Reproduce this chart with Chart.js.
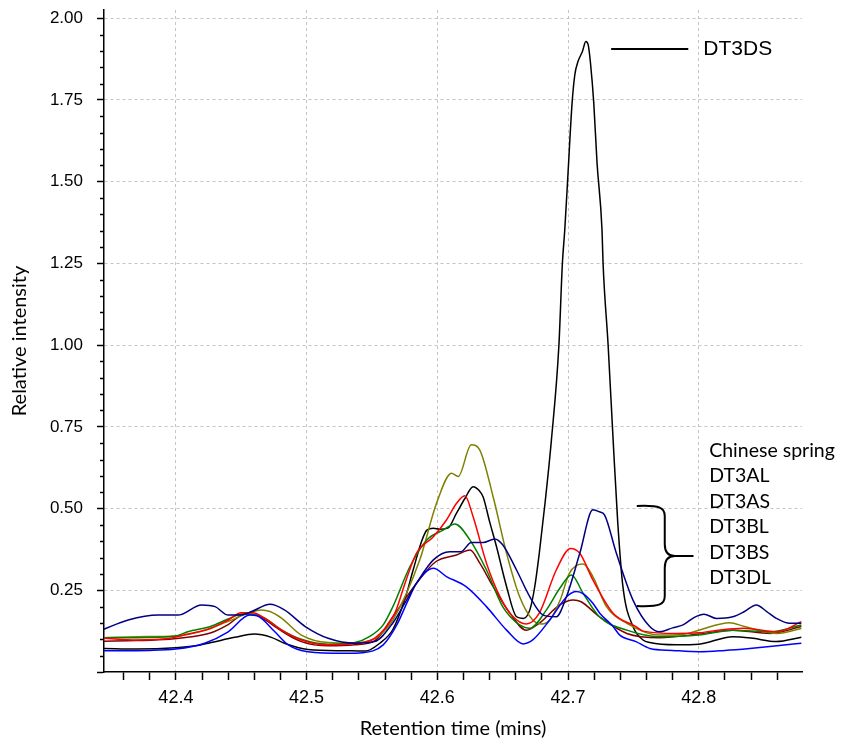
<!DOCTYPE html>
<html>
<head>
<meta charset="utf-8">
<script src="https://cdn.jsdelivr.net/npm/chart.js@4/dist/chart.umd.min.js"></script>
<style>
  html, body { margin: 0; padding: 0; background: #fff; }
  #wrap { width: 847px; height: 739px; position: relative; }
</style>
</head>
<body>
<div id="wrap"><canvas id="c" width="847" height="739"></canvas></div>
<script>
// ---------- DATA ----------
const xTitle = 'Retention time (mins)';
const yTitle = 'Relative intensity';
const legendNames = ['Chinese spring', 'DT3AL', 'DT3AS', 'DT3BL', 'DT3BS', 'DT3DL'];
const peakLabel = 'DT3DS';

// Chinese spring (navy)
const csTime = [42.345,42.3635,42.3865,42.4015,42.4197,42.430,42.440,42.450,42.458,42.472,42.483,42.499,42.5165,42.537,42.552,42.566,42.575,42.584,42.597,42.6096,42.618,42.626,42.635,42.644,42.650,42.6606,42.6708,42.681,42.691,42.6988,42.709,42.719,42.724,42.728,42.737,42.7497,42.7625,42.770,42.780,42.788,42.797,42.804,42.8135,42.826,42.835,42.844,42.852,42.8594,42.8696,42.8785];
const csInt  = [0.131,0.159,0.174,0.174,0.205,0.200,0.174,0.174,0.185,0.207,0.190,0.139,0.103,0.088,0.093,0.150,0.210,0.271,0.343,0.368,0.368,0.396,0.396,0.407,0.389,0.312,0.230,0.174,0.169,0.230,0.363,0.496,0.490,0.480,0.363,0.220,0.139,0.123,0.135,0.144,0.168,0.177,0.164,0.169,0.185,0.205,0.185,0.164,0.149,0.149];

// DT3AL (blue)
const alTime = [42.345,42.380,42.400,42.422,42.440,42.4566,42.462,42.4757,42.486,42.501,42.529,42.543,42.5586,42.569,42.5777,42.584,42.597,42.607,42.622,42.6376,42.653,42.6657,42.673,42.686,42.699,42.7065,42.712,42.719,42.7243,42.7345,42.7396,42.752,42.7626,42.780,42.8008,42.820,42.839,42.860,42.8785];
const alInt  = [0.065,0.066,0.070,0.088,0.123,0.174,0.172,0.123,0.083,0.062,0.057,0.059,0.083,0.144,0.220,0.271,0.317,0.292,0.261,0.200,0.128,0.086,0.098,0.159,0.230,0.246,0.238,0.210,0.180,0.139,0.113,0.093,0.072,0.066,0.062,0.066,0.072,0.080,0.088];

// DT3AS (red)
const asTime = [42.345,42.370,42.395,42.409,42.427,42.440,42.450,42.459,42.468,42.481,42.496,42.5165,42.537,42.552,42.5675,42.576,42.584,42.597,42.607,42.6147,42.621,42.6274,42.6376,42.648,42.658,42.668,42.678,42.691,42.702,42.709,42.719,42.7345,42.752,42.7574,42.783,42.800,42.815,42.834,42.860,42.8785];
const asInt  = [0.103,0.098,0.103,0.116,0.134,0.159,0.181,0.181,0.164,0.128,0.098,0.083,0.088,0.103,0.180,0.280,0.363,0.414,0.465,0.516,0.539,0.475,0.333,0.230,0.169,0.147,0.180,0.312,0.378,0.363,0.282,0.180,0.139,0.125,0.118,0.120,0.128,0.134,0.123,0.154];

// DT3BL (green)
const blTime = [42.345,42.370,42.400,42.409,42.427,42.440,42.452,42.460,42.468,42.481,42.496,42.5165,42.537,42.548,42.5586,42.566,42.579,42.592,42.6045,42.6134,42.6249,42.6376,42.650,42.663,42.6708,42.6835,42.6937,42.7026,42.7115,42.724,42.745,42.770,42.800,42.826,42.855,42.8785];
const blInt  = [0.105,0.105,0.110,0.123,0.140,0.162,0.178,0.176,0.165,0.128,0.100,0.085,0.090,0.108,0.144,0.200,0.322,0.404,0.434,0.453,0.404,0.312,0.200,0.144,0.134,0.190,0.256,0.297,0.241,0.169,0.128,0.108,0.113,0.128,0.123,0.144];

// DT3BS (olive)
const bsTime = [42.345,42.370,42.400,42.420,42.440,42.4655,42.472,42.481,42.496,42.5165,42.537,42.545,42.555,42.566,42.5866,42.5994,42.6109,42.616,42.626,42.6325,42.6427,42.653,42.663,42.673,42.680,42.686,42.694,42.701,42.7115,42.719,42.7294,42.745,42.770,42.788,42.800,42.8237,42.835,42.860,42.8785];
const bsInt  = [0.105,0.108,0.110,0.125,0.155,0.190,0.185,0.164,0.113,0.090,0.088,0.093,0.110,0.159,0.343,0.516,0.608,0.598,0.695,0.679,0.536,0.363,0.230,0.159,0.147,0.159,0.220,0.302,0.330,0.292,0.200,0.149,0.113,0.115,0.128,0.151,0.139,0.118,0.133];

// DT3DL (maroon)
const dlTime = [42.345,42.370,42.395,42.409,42.427,42.440,42.4525,42.460,42.468,42.481,42.496,42.5165,42.537,42.552,42.566,42.584,42.599,42.6147,42.625,42.6325,42.6427,42.6555,42.668,42.678,42.6937,42.704,42.710,42.724,42.745,42.770,42.800,42.826,42.855,42.8785];
const dlInt  = [0.094,0.096,0.100,0.106,0.120,0.145,0.177,0.176,0.160,0.125,0.093,0.080,0.083,0.095,0.169,0.271,0.338,0.358,0.373,0.333,0.261,0.180,0.128,0.149,0.205,0.220,0.215,0.169,0.118,0.105,0.116,0.128,0.118,0.139];

// DT3DS (black)
const dsTime = [42.345,42.370,42.400,42.415,42.427,42.445,42.460,42.473,42.483,42.501,42.529,42.545,42.556,42.566,42.575,42.5815,42.588,42.592,42.597,42.602,42.608,42.6147,42.621,42.6274,42.632,42.635,42.640,42.6453,42.653,42.6606,42.6657,42.6708,42.6745,42.678,42.6825,42.6873,42.693,42.6957,42.6975,42.700,42.7031,42.7052,42.7077,42.711,42.7136,42.7154,42.7172,42.7197,42.7222,42.726,42.7268,42.7307,42.7345,42.738,42.742,42.7497,42.7574,42.7626,42.783,42.800,42.826,42.840,42.8594,42.8785];
const dsInt  = [0.072,0.070,0.074,0.080,0.090,0.106,0.116,0.106,0.088,0.069,0.065,0.064,0.088,0.130,0.220,0.312,0.400,0.434,0.440,0.437,0.440,0.486,0.530,0.567,0.555,0.536,0.460,0.383,0.261,0.169,0.164,0.190,0.260,0.363,0.520,0.710,0.998,1.251,1.352,1.526,1.740,1.827,1.868,1.898,1.929,1.919,1.862,1.740,1.557,1.352,1.251,0.998,0.710,0.460,0.261,0.139,0.098,0.090,0.083,0.085,0.108,0.104,0.093,0.106];

// axis ranges / ticks
const xMin = 42.345, xMax = 42.879, xStep = 0.02, xMajor = 0.1;
const yMin = 0, yMax = 2.025, yStep = 0.05, yMajor = 0.25;

// annotation anchors in data units
const peakLine = { x1: 42.733, x2: 42.792, y: 1.906, textX: 42.8035 };
const legendAnchor = { x: 42.808, y: 0.677 };
const brace = { xEnd: 42.7526, xMid: 42.774, xTip: 42.796, yTop: 0.508, yTip: 0.355, yBot: 0.202 };

// ---------- CHART ----------
function pts(t, v) { return t.map((x, i) => ({ x: x, y: v[i] })); }
const series = [
  { label: 'Chinese spring', data: pts(csTime, csInt), color: '#000080' },
  { label: 'DT3AL', data: pts(alTime, alInt), color: '#0000FF' },
  { label: 'DT3AS', data: pts(asTime, asInt), color: '#FF0000' },
  { label: 'DT3BL', data: pts(blTime, blInt), color: '#008000' },
  { label: 'DT3BS', data: pts(bsTime, bsInt), color: '#808000' },
  { label: 'DT3DL', data: pts(dlTime, dlInt), color: '#800000' },
  { label: 'DT3DS', data: pts(dsTime, dsInt), color: '#000000' }
];

function isMult(v, m) { const r = v / m; return Math.abs(r - Math.round(r)) < 1e-6; }

const annotations = {
  id: 'annotations',
  afterDraw(chart) {
    const ctx = chart.ctx;
    const xs = chart.scales.x, ys = chart.scales.y;
    const X = v => xs.getPixelForValue(v), Y = v => ys.getPixelForValue(v);
    ctx.save();
    // short minor ticks on the y axis
    ctx.strokeStyle = '#000';
    ctx.lineWidth = 1.5;
    ys.ticks.forEach(t => {
      if (!isMult(t.value, yMajor)) {
        const py = Math.round(Y(t.value)) + 0.5;
        ctx.beginPath();
        ctx.moveTo(ys.right - 4, py);
        ctx.lineTo(ys.right, py);
        ctx.stroke();
      }
    });
    // DT3DS marker line + label
    ctx.lineWidth = 2;
    ctx.beginPath();
    ctx.moveTo(X(peakLine.x1), Y(peakLine.y));
    ctx.lineTo(X(peakLine.x2), Y(peakLine.y));
    ctx.stroke();
    ctx.fillStyle = '#000';
    ctx.font = '21px "Liberation Sans", Arial, sans-serif';
    ctx.textBaseline = 'middle';
    ctx.textAlign = 'left';
    ctx.fillText(peakLabel, X(peakLine.textX), Y(peakLine.y));
    // legend names
    ctx.font = '19.5px Lato, "Open Sans", sans-serif';
    const lx = X(legendAnchor.x), ly = Y(legendAnchor.y);
    legendNames.forEach((n, i) => ctx.fillText(n, lx, ly + i * 25.5));
    // curly brace
    const xe = X(brace.xEnd), xm = X(brace.xMid), xt = X(brace.xTip);
    const yt = Y(brace.yTop), yc = Y(brace.yTip), yb = Y(brace.yBot);
    ctx.lineWidth = 2;
    ctx.beginPath();
    ctx.moveTo(xe, yt);
    ctx.bezierCurveTo(xm - 4, yt - 1, xm, yt + 2, xm, yt + 10);
    ctx.lineTo(xm, yc - 12);
    ctx.bezierCurveTo(xm, yc - 3, xm + 4, yc, xm + 10, yc);
    ctx.lineTo(xt, yc);
    ctx.moveTo(xm + 10, yc);
    ctx.bezierCurveTo(xm + 4, yc, xm, yc + 3, xm, yc + 12);
    ctx.lineTo(xm, yb - 10);
    ctx.bezierCurveTo(xm, yb - 2, xm - 4, yb + 1, xe, yb);
    ctx.stroke();
    ctx.restore();
  }
};

new Chart(document.getElementById('c'), {
  type: 'line',
  data: {
    datasets: series.map(s => ({
      label: s.label,
      data: s.data,
      borderColor: s.color,
      backgroundColor: s.color,
      borderWidth: 1.5,
      pointRadius: 0,
      fill: false,
      cubicInterpolationMode: 'monotone'
    }))
  },
  options: {
    responsive: false,
    animation: false,
    layout: { padding: { left: 0, right: 45, top: 10, bottom: 0 } },
    plugins: { legend: { display: false }, tooltip: { enabled: false } },
    scales: {
      x: {
        type: 'linear',
        min: xMin, max: xMax,
        afterFit(scale) { scale.height = 67; scale.paddingLeft = 0; scale.paddingRight = 0; },
        ticks: {
          stepSize: xStep,
          includeBounds: false,
          autoSkip: false,
          maxRotation: 0,
          padding: 7,
          color: '#000',
          font: { family: '"Liberation Sans", Arial, sans-serif', size: 18 },
          callback: v => isMult(v, xMajor) ? v.toFixed(1) : ''
        },
        grid: {
          color: ctx => (ctx.tick && isMult(ctx.tick.value, xMajor)) ? '#c4c4c4' : 'rgba(0,0,0,0)',
          tickColor: '#000',
          tickLength: 8,
          tickWidth: 1.5,
          lineWidth: 1
        },
        border: { display: true, color: '#000', width: 1.5, dash: [3, 3] },
        title: {
          display: true, text: xTitle, color: '#000',
          font: { family: 'Lato, "Open Sans", sans-serif', size: 20, lineHeight: 1 },
          padding: { top: 0, bottom: 0 }
        }
      },
      y: {
        type: 'linear',
        min: yMin, max: yMax,
        afterFit(scale) { scale.width = 104; scale.paddingTop = 0; scale.paddingBottom = 0; },
        ticks: {
          stepSize: yStep,
          includeBounds: false,
          autoSkip: false,
          padding: 14,
          color: '#000',
          font: { family: '"Liberation Sans", Arial, sans-serif', size: 17 },
          callback: v => (isMult(v, yMajor) && v > 0) ? v.toFixed(2) : ''
        },
        grid: {
          color: ctx => (ctx.tick && isMult(ctx.tick.value, yMajor) && ctx.tick.value > 0) ? '#c4c4c4' : 'rgba(0,0,0,0)',
          tickColor: ctx => (ctx.tick && isMult(ctx.tick.value, yMajor)) ? '#000' : 'rgba(0,0,0,0)',
          tickLength: 7,
          tickWidth: 1.5,
          lineWidth: 1
        },
        border: { display: true, color: '#000', width: 1.5, dash: [3, 3] },
        title: {
          display: true, text: yTitle, color: '#000',
          font: { family: 'Lato, "Open Sans", sans-serif', size: 20, lineHeight: 1 },
          padding: { top: 10, bottom: 0 }
        }
      }
    }
  },
  plugins: [annotations]
});
</script>
</body>
</html>
